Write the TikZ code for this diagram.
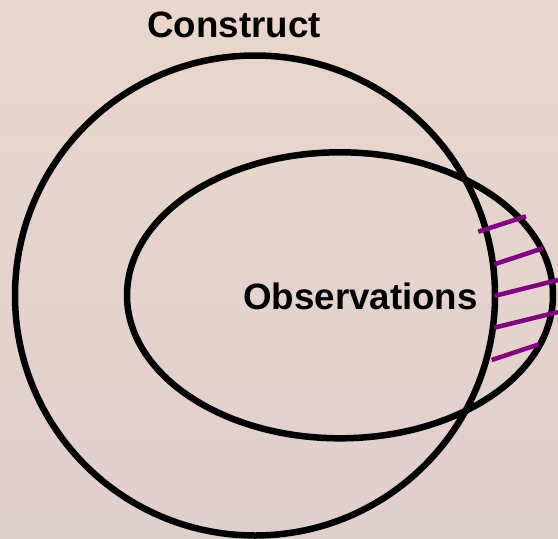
\documentclass[tikz,border=0pt]{standalone}
\usepackage{fontspec}
\setmainfont{Liberation Sans}
\usetikzlibrary{shapes.geometric}
\definecolor{bgtop}{RGB}{233,215,205}
\definecolor{bgbot}{RGB}{224,207,207}
\definecolor{hatchpurple}{RGB}{128,0,128}
\begin{document}
\begin{tikzpicture}[x=1pt,y=-1pt,
  outline/.style={line width=6.5pt, draw=black, inner sep=0pt, outer sep=0pt},
  hatch/.style={line width=4.5pt, draw=hatchpurple},
  lbl/.style={font=\fontsize{36.7}{40}\selectfont\bfseries, inner sep=0pt, anchor=base}]
\shade[top color=bgtop, bottom color=bgbot] (0,0) rectangle (558,539);
\useasboundingbox (0,0) rectangle (558,539);
\node[outline, circle, minimum size=480pt] (construct) at (255,295.5) {};
\node[outline, ellipse, minimum width=426pt, minimum height=286pt] (observ) at (340,295.3) {};
\coordinate (h1a) at (478.3,231.7); \coordinate (h1b) at (526,216.3);
\coordinate (h2a) at (494.3,264.3); \coordinate (h2b) at (542.7,248.3);
\coordinate (h3a) at (494.3,296);   \coordinate (h3b) at (558,280);
\coordinate (h4a) at (494.3,327.7); \coordinate (h4b) at (558,312);
\coordinate (h5a) at (491.7,360);   \coordinate (h5b) at (539,344.3);
\foreach \i in {1,...,5} {\draw[hatch] (h\i a) -- (h\i b);}
\node[lbl] (constructlabel) at (234,37) {Construct};
\node[lbl] (observlabel) at (360.5,309.5) {Observations};
\end{tikzpicture}
\end{document}
